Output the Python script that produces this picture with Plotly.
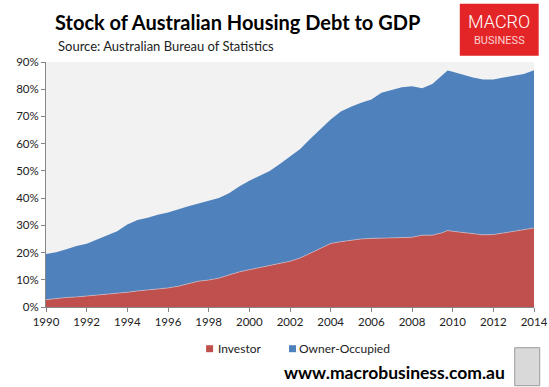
import plotly.graph_objects as go

years = [1990.0, 1990.5, 1991.0, 1991.5, 1992.0, 1992.5, 1993.0, 1993.5, 1994.0, 1994.5,
         1995.0, 1995.5, 1996.0, 1996.5, 1997.0, 1997.5, 1998.0, 1998.5, 1999.0, 1999.5,
         2000.0, 2000.5, 2001.0, 2001.5, 2002.0, 2002.5, 2003.0, 2003.5, 2004.0, 2004.5,
         2005.0, 2005.5, 2006.0, 2006.5, 2007.0, 2007.5, 2008.0, 2008.5, 2009.0, 2009.5,
         2009.75, 2010.0, 2010.5, 2011.0, 2011.5, 2012.0, 2012.5, 2013.0, 2013.5, 2014.0]

investor = [2.7, 3.2, 3.5, 3.7, 4.0, 4.4, 4.7, 5.0, 5.4, 5.9,
            6.2, 6.5, 7.0, 7.6, 8.6, 9.5, 9.9, 10.6, 11.8, 12.9,
            13.7, 14.5, 15.3, 16.1, 16.8, 18.0, 19.8, 21.7, 23.3, 24.0,
            24.5, 25.0, 25.2, 25.3, 25.4, 25.5, 25.6, 26.4, 26.4, 27.3,
            28.1, 27.8, 27.4, 26.8, 26.5, 26.6, 27.2, 27.8, 28.3, 29.0]

owner_occupied = [16.8, 16.9, 17.7, 18.7, 19.2, 20.4, 21.5, 22.8, 24.9, 26.1,
                  26.6, 27.4, 27.7, 28.3, 28.4, 28.5, 29.0, 29.4, 30.0, 31.4,
                  32.7, 33.8, 34.7, 36.4, 38.6, 40.0, 42.0, 43.8, 45.6, 47.8,
                  49.1, 50.0, 51.0, 53.4, 54.4, 55.2, 55.5, 54.0, 55.5, 58.0,
                  58.8, 58.6, 58.0, 57.5, 57.1, 57.0, 57.1, 57.2, 57.3, 58.0]

series_names = ["Investor", "Owner-Occupied"]
x_ticks = [1990, 1992, 1994, 1996, 1998, 2000, 2002, 2004, 2006, 2008, 2010, 2012, 2014]
y_ticks = [0, 10, 20, 30, 40, 50, 60, 70, 80, 90]
y_tick_labels = [f"{v}%" for v in y_ticks]

RED = "#C0504D"
BLUE = "#4F81BD"
FONT = "Lato"

W, H = 549, 387
# plot area in window pixels
PX0, PX1, PY0, PY1 = 45.7, 534.3, 62.3, 307.3
L = PX0
T = PY0
R = W - PX1
B = H - PY1
PW = PX1 - PX0
PH = PY1 - PY0


def fx(x):
    return (x - PX0) / PW


def fy(y):
    return (PY1 - y) / PH


fig = go.Figure()
fig.add_trace(go.Scatter(x=years, y=investor, stackgroup="one", mode="lines",
                         name=series_names[0],
                         line=dict(width=0.6, color="rgba(235,200,200,0.9)"),
                         fillcolor=RED, showlegend=False, hoverinfo="skip"))
fig.add_trace(go.Scatter(x=years, y=owner_occupied, stackgroup="one", mode="lines",
                         name=series_names[1],
                         line=dict(width=0, color=BLUE),
                         fillcolor=BLUE, showlegend=False, hoverinfo="skip"))

fig.update_layout(
    width=W, height=H,
    margin=dict(l=L, r=R, t=T, b=B, autoexpand=False),
    paper_bgcolor="white",
    plot_bgcolor="#F2F2F2",
    showlegend=False,
    font=dict(family=FONT, size=11, color="#222222"),
    xaxis=dict(range=[1990, 2014], tickvals=x_ticks, ticktext=[str(t) for t in x_ticks],
               showgrid=False, zeroline=False, showline=True, linecolor="#868686",
               ticks="outside", ticklen=4, tickcolor="#868686",
               tickfont=dict(size=11.5, family=FONT)),
    yaxis=dict(range=[0, 90], tickvals=y_ticks, ticktext=y_tick_labels,
               showgrid=False, zeroline=False, showline=True, linecolor="#868686",
               ticks="outside", ticklen=4, tickcolor="#868686",
               tickfont=dict(size=11.5, family=FONT)),
)

annotations = [
    dict(text="<b>Stock of Australian Housing Debt to GDP</b>", x=54, y=22,
         font=dict(size=20, family=FONT, color="black")),
    dict(text="Source: Australian Bureau of Statistics", x=57, y=46,
         font=dict(size=13, family=FONT, color="#222222")),
    dict(text="MACRO", x=499.5, y=22, xanchor="center",
         font=dict(size=18, family="Roboto", color="white", weight=300)),
    dict(text="BUSINESS", x=499.5, y=41, xanchor="center",
         font=dict(size=11, family="Roboto", color="#FAD0D0")),
    dict(text="<b>www.macrobusiness.com.au</b>", x=283, y=373,
         font=dict(size=17.5, family=FONT, color="black")),
    # legend labels
    dict(text=series_names[0], x=216.5, y=349,
         font=dict(size=12, family=FONT, color="#222222")),
    dict(text=series_names[1], x=298.5, y=349,
         font=dict(size=12, family=FONT, color="#222222")),
]
for a in annotations:
    xa = a.pop("xanchor", "left")
    fig.add_annotation(xref="paper", yref="paper", showarrow=False,
                       x=fx(a.pop("x")), y=fy(a.pop("y")),
                       xanchor=xa, yanchor="middle", borderpad=0, **a)


# logo box, legend swatches and wolf badge
def px_rect(x0, y0, x1, y1, **kw):
    fig.add_shape(type="rect", xref="paper", yref="paper",
                  x0=fx(x0), x1=fx(x1), y0=fy(y0), y1=fy(y1), **kw)


px_rect(460, 4, 539, 56, fillcolor="#E42527", line=dict(width=0), layer="below")
px_rect(206, 345.5, 213, 352.5, fillcolor=RED, line=dict(width=0))
px_rect(289, 345.5, 296, 352.5, fillcolor=BLUE, line=dict(width=0))
px_rect(515, 348, 540, 386, fillcolor="#D9D9D9", line=dict(width=1, color="#9A9A9A"))

fig.write_html(
    "out.html",
    config={"displayModeBar": False},
    post_script="document.body.style.margin='0';document.body.style.overflow='hidden';",
)
